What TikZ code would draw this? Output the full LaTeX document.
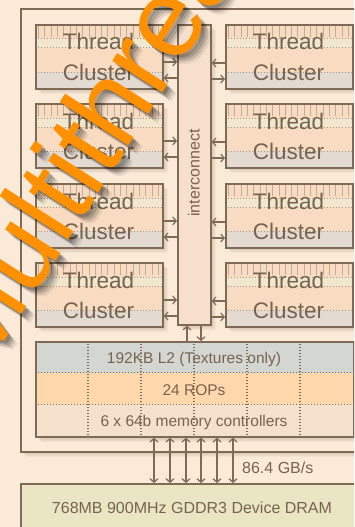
\documentclass[tikz,border=0pt]{standalone}
\usepackage{fontspec}
\setmainfont{Liberation Sans}
\usetikzlibrary{arrows.meta,calc}
\definecolor{bgc}{HTML}{FCEAD8}
\definecolor{linec}{HTML}{7E6A55}
\definecolor{txtc}{HTML}{76644F}
\definecolor{peachA}{HTML}{F8DBC0}
\definecolor{creamA}{HTML}{F1E7CE}
\definecolor{greyA}{HTML}{E3DBD2}
\definecolor{tickc}{HTML}{BFAD9A}
\definecolor{dotc}{HTML}{A89582}
\definecolor{icfill}{HTML}{F6E0CC}
\definecolor{ltwo}{HTML}{D4D6D2}
\definecolor{rops}{HTML}{FFD7AD}
\definecolor{memc}{HTML}{F4E0CB}
\definecolor{dramc}{HTML}{EAE6C3}
\definecolor{shadc}{HTML}{4A3826}
\definecolor{orangeW}{HTML}{FF9100}
\newcommand\softshade[4]{%
  \foreach \s in {1,2,3,4,5,6}{\fill[shadc,opacity=0.045] (#1+\s,#2+\s) rectangle (#3+\s,#4+\s);}}
\tikzset{
  box/.style={draw=linec,line width=1.7pt,inner sep=0pt,anchor=north west},
  dotl/.style={draw=dotc,line width=1pt,dash pattern=on 1pt off 2pt},
  vdot/.style={draw=linec,line width=1.1pt,dash pattern=on 1pt off 2pt},
  arr/.style={draw=linec,line width=1.2pt,-{Straight Barb[length=3.5pt,width=8pt]}},
  darr/.style={draw=linec,line width=1.2pt,{Straight Barb[length=3.5pt,width=8pt]}-{Straight Barb[length=3.5pt,width=8pt]}},
  ctext/.style={text=txtc,font=\fontsize{22.5}{24}\selectfont,inner sep=0pt,anchor=base},
  stext/.style={text=txtc,font=\fontsize{15.5}{16}\selectfont,inner sep=0pt,anchor=base},
  wmark/.style={anchor=base west,rotate=57.5,font=\fontsize{112}{112}\selectfont,inner sep=0pt},
  clusterpic/.pic={
    \softshade{0}{0}{127}{64}
    \fill[peachA] (0,0) rectangle (127,64);
    \fill[creamA] (0,15) rectangle (127,24);
    \fill[greyA] (0,48) rectangle (127,64);
    \foreach \i in {0,...,19}{\draw[tickc,line width=0.8pt] (3.5+6.3*\i,0) -- (3.5+6.3*\i,13);}
    \draw[dotl] (0,15) -- (127,15) (0,24) -- (127,24) (0,48) -- (127,48);
    \node[box,minimum width=127pt,minimum height=64pt] (-box) at (0,0) {};
    \node[ctext] (-t1) at (63.5,26) {Thread};
    \node[ctext] (-t2) at (63.5,56) {Cluster};
  }
}
\begin{document}
\begin{tikzpicture}[x=1pt,y=-1pt]
\useasboundingbox (0,0) rectangle (354,527);
\clip (0,0) rectangle (354,527);
\fill[bgc] (0,0) rectangle (354,527);
% outer chip box
\softshade{20}{8}{365}{451}
\node[box,fill=bgc,minimum width=345pt,minimum height=443pt] (outer) at (20,8) {};
% DRAM
\softshade{20}{483}{365}{540}
\node[box,fill=dramc,minimum width=345pt,minimum height=60pt] (dram) at (20,483) {};
\node[stext,font=\fontsize{16}{16}\selectfont] (dramt) at (192,513) {768MB 900MHz GDDR3 Device DRAM};
% clusters
\pic (L1) at (35,24) {clusterpic};
\pic (L2) at (35,103) {clusterpic};
\pic (L3) at (35,183) {clusterpic};
\pic (L4) at (35,262) {clusterpic};
\pic (R1) at (225,24) {clusterpic};
\pic (R2) at (225,103) {clusterpic};
\pic (R3) at (225,183) {clusterpic};
\pic (R4) at (225,262) {clusterpic};
% interconnect
\softshade{177}{24}{210}{324}
\node[box,fill=icfill,minimum width=33pt,minimum height=300pt] (ic) at (177,24) {};
\node[text=txtc,font=\fontsize{16}{16}\selectfont,inner sep=0pt,rotate=90] (ict) at (194,173) {interconnect};
% L2 / ROP / memory controllers block
\softshade{35}{341}{353}{436}
\fill[ltwo] (35,341) rectangle (353,372.7);
\fill[rops] (35,372.7) rectangle (353,404.3);
\fill[memc] (35,404.3) rectangle (353,436);
\draw[vdot] (35,372.7) -- (353,372.7) (35,404.3) -- (353,404.3);
\foreach \x in {88,141,194,247,300}{\draw[vdot] (\x,341) -- (\x,436);}
\node[box,minimum width=318pt,minimum height=95pt] (l2) at (35,341) {};
\node[stext] (l2t) at (194,363) {192KB L2 (Textures only)};
\node[stext] (ropt) at (194,395) {24 ROPs};
\node[stext] (mct) at (194,426.3) {6 x 64b memory controllers};
% cluster <-> interconnect arrows
\foreach \n/\t in {L1/24,L2/103,L3/183,L4/262}{
  \draw[arr] (\n-box.east |- 0,\t+38) -- (ic.west |- 0,\t+38);
  \draw[arr] (ic.west |- 0,\t+54) -- (\n-box.east |- 0,\t+54);
}
\foreach \n/\t in {R1/24,R2/103,R3/183,R4/262}{
  \draw[arr] (\n-box.west |- 0,\t+39) -- (ic.east |- 0,\t+39);
  \draw[arr] (ic.east |- 0,\t+55) -- (\n-box.west |- 0,\t+55);
}
% interconnect <-> L2
\draw[arr] (l2.north -| 187,0) -- (ic.south -| 187,0);
\draw[arr] (ic.south -| 201,0) -- (l2.north -| 201,0);
% memory bus
\foreach \x in {154,170,186,201,217,233}{\draw[darr] (l2.south -| \x,0) -- (dram.north -| \x,0);}
\node[stext,anchor=base west,font=\fontsize{16}{16}\selectfont] (bw) at (242,473.5) {86.4 GB/s};
% watermark
\foreach \dx/\op in {3/0.18,5/0.16,7/0.12,9/0.08}{
  \node[wmark,text=black,opacity=\op] at (-19+\dx,378+\dx) {Multithreaded};
}
\node[wmark,text=orangeW] (wm) at (-19,378) {Multithreaded};
\end{tikzpicture}
\end{document}
